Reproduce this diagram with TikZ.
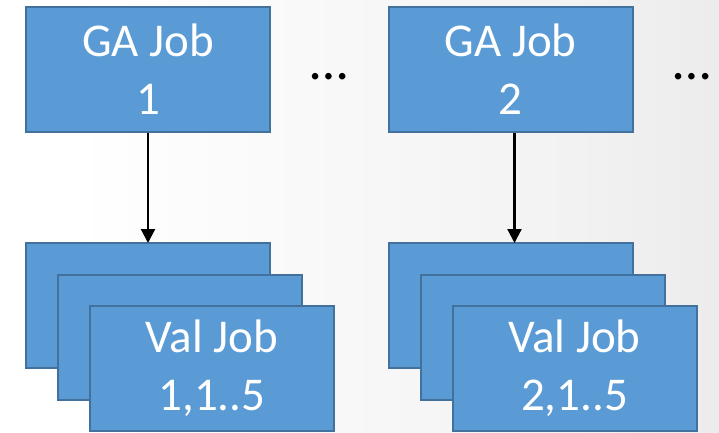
\documentclass[tikz,border=0pt]{standalone}
\usepackage{fontspec}
\setmainfont{Carlito}
\usetikzlibrary{arrows.meta}
\definecolor{jobfill}{HTML}{5B9BD5}
\definecolor{jobline}{HTML}{41719C}
\definecolor{bgright}{HTML}{DCDCDC}
\definecolor{bgmid}{HTML}{F2F2F2}
\tikzset{
  jobbox/.style={draw=jobline, fill=jobfill, line width=2pt,
    minimum width=244pt, minimum height=125pt, inner sep=0pt,
    text=white, align=center, font=\fontsize{47}{58}\selectfont},
  flow/.style={draw=black, line width=2.2pt,
    -{Triangle[width=14pt,length=14pt]}},
  dots/.style={font=\fontsize{54}{60}\selectfont, inner sep=0pt}
}
\pgfdeclarehorizontalshading{bgshade}{100bp}{
  color(0bp)=(white); color(30bp)=(white); color(65bp)=(bgmid); color(100bp)=(bgright)}
\begin{document}
\begin{tikzpicture}[x=1pt,y=-1pt]
  % page background, light on the left fading to grey on the right
  \shade[shading=bgshade] (0,0) rectangle (719,432);
  \useasboundingbox (0,0) rectangle (719,432);

  % GA jobs
  \node[jobbox] (ga1) at (148,69) {GA Job\\1};
  \node[jobbox] (ga2) at (510.5,69) {GA Job\\2};

  % ellipses
  \node[dots] (more1) at (329,77) {…};
  \node[dots] (more2) at (692,77) {…};

  % stacked validation jobs for GA job 1
  \node[jobbox] (va1) at (148,305.5) {};
  \node[jobbox] (vb1) at (180,337) {};
  \node[jobbox] (vc1) at (212,368.5) {Val Job\\1,1..5};

  % stacked validation jobs for GA job 2
  \node[jobbox] (va2) at (510.5,305.5) {};
  \node[jobbox] (vb2) at (542.5,337) {};
  \node[jobbox] (vc2) at (574.5,368.5) {Val Job\\2,1..5};

  % connectors
  \draw[flow] (ga1.south) -- ([yshift=-1pt]va1.north);
  \draw[flow] ([xshift=4pt]ga2.south) -- ([xshift=4pt,yshift=-1pt]va2.north);
\end{tikzpicture}
\end{document}
